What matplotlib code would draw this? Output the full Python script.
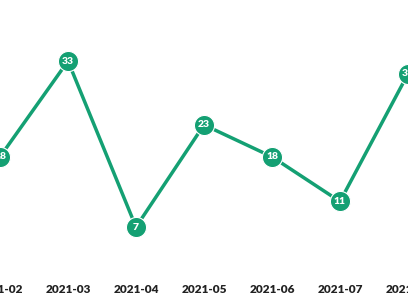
import matplotlib
matplotlib.use("Agg")
import matplotlib.pyplot as plt

months = ["2021-02", "2021-03", "2021-04", "2021-05", "2021-06", "2021-07", "2021-08"]
values = [18, 33, 7, 23, 18, 11, 31]

color = "#14a073"
fig = plt.figure(figsize=(4.08, 3.0), dpi=100)
ax = fig.add_axes([0, 0.1, 1, 0.9])
x = list(range(len(months)))
ax.plot(x, values, color=color, lw=2.5, marker="o", markersize=14.5,
        markerfacecolor=color, markeredgecolor="white", markeredgewidth=0.8,
        solid_joinstyle="miter", zorder=2)
for xi, v in zip(x, values):
    ax.text(xi, v, str(v), ha="center", va="center", color="white",
            fontsize=7.5, fontweight="heavy", family=["Lato", "DejaVu Sans"], zorder=3)
ax.set_xlim(0, len(months) - 1)
ax.set_ylim(0.27, 42.56)
ax.set_xticks(x)
ax.set_xticklabels(months, fontsize=8.5, fontweight="heavy", family=["Lato", "DejaVu Sans"], color="#222222")
ax.tick_params(axis="x", length=0, pad=10)
ax.set_yticks([])
for s in ax.spines.values():
    s.set_visible(False)
fig.savefig("out.png", dpi=100)
